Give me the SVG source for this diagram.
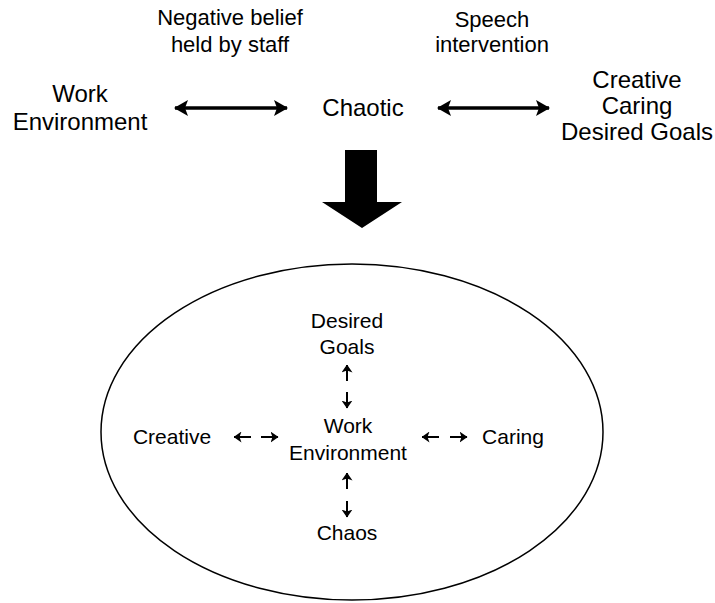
<svg xmlns="http://www.w3.org/2000/svg" width="715" height="603" viewBox="0 0 715 603">
<style>
text{font-family:"Liberation Sans",Arial,sans-serif;fill:#000;text-anchor:middle}
.main{font-size:24px}
.note{font-size:22px}
.inner{font-size:21px}
.big{stroke:#000;stroke-width:3.5;fill:none}
.sm{stroke:#000;stroke-width:2;fill:none}
</style>
<defs>
<marker id="ah" viewBox="0 0 14 16" refX="13" refY="8" markerWidth="14" markerHeight="16" orient="auto-start-reverse" markerUnits="userSpaceOnUse"><path d="M0,0 L14,8 L0,16 L3,8 Z" fill="#000"/></marker>
<marker id="as" viewBox="0 0 8 11" refX="7.5" refY="5.5" markerWidth="8" markerHeight="11" orient="auto" markerUnits="userSpaceOnUse"><path d="M0,0 L8,5.5 L0,11 L2,5.5 Z" fill="#000"/></marker>
</defs>
<rect width="715" height="603" fill="#fff"/>
<g id="note1"><text class="note" x="230" y="25">Negative belief</text><text class="note" x="230" y="52">held by staff</text></g>
<g id="note2"><text class="note" x="492" y="27">Speech</text><text class="note" x="492" y="52">intervention</text></g>
<g id="work"><text class="main" x="80" y="102">Work</text><text class="main" x="80" y="130">Environment</text></g>
<g id="chaotic"><text class="main" x="363" y="116">Chaotic</text></g>
<g id="goals"><text class="main" x="637" y="88">Creative</text><text class="main" x="637" y="114">Caring</text><text class="main" x="637" y="140">Desired Goals</text></g>
<g id="bigarrow"><path d="M345,150 H377 V202 H402 L362,228 L322,202 H345 Z" fill="#000"/></g>
<g id="ellipse"><ellipse cx="352" cy="432" rx="251" ry="168" fill="none" stroke="#000" stroke-width="1.5"/></g>
<g id="in-goals"><text class="inner" x="347" y="328">Desired</text><text class="inner" x="347" y="354">Goals</text></g>
<g id="in-work"><text class="inner" x="348" y="433">Work</text><text class="inner" x="348" y="460">Environment</text></g>
<g id="in-chaos"><text class="inner" x="347" y="540">Chaos</text></g>
<g id="in-creative"><text class="inner" x="172" y="444">Creative</text></g>
<g id="in-caring"><text class="inner" x="513" y="444">Caring</text></g>
<g id="connectors">
<line class="big" x1="175" y1="108" x2="287" y2="108" marker-start="url(#ah)" marker-end="url(#ah)"/>
<line class="big" x1="438" y1="108" x2="549" y2="108" marker-start="url(#ah)" marker-end="url(#ah)"/>
<line class="sm" x1="347" y1="381" x2="347" y2="365" marker-end="url(#as)"/>
<line class="sm" x1="347" y1="392" x2="347" y2="408" marker-end="url(#as)"/>
<line class="sm" x1="347" y1="489" x2="347" y2="473" marker-end="url(#as)"/>
<line class="sm" x1="347" y1="501" x2="347" y2="517" marker-end="url(#as)"/>
<line class="sm" x1="251" y1="437" x2="234" y2="437" marker-end="url(#as)"/>
<line class="sm" x1="261" y1="437" x2="278" y2="437" marker-end="url(#as)"/>
<line class="sm" x1="439" y1="437" x2="422" y2="437" marker-end="url(#as)"/>
<line class="sm" x1="450" y1="437" x2="467" y2="437" marker-end="url(#as)"/>
</g>
</svg>
